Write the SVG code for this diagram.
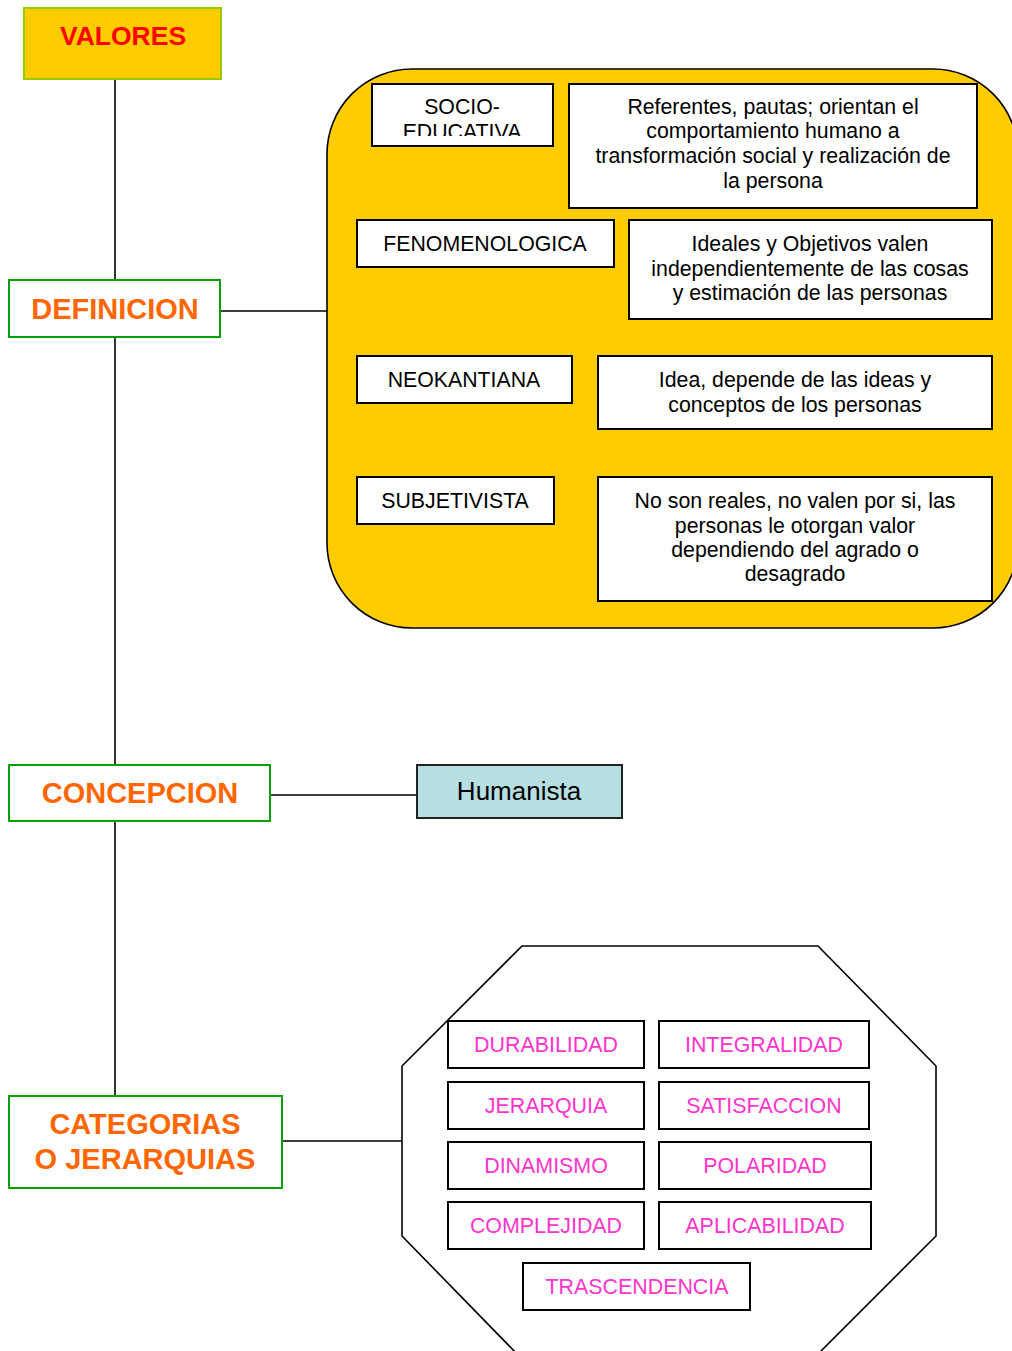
<svg xmlns="http://www.w3.org/2000/svg" width="1012" height="1351" viewBox="0 0 1012 1351">
  <style>
    .conn { stroke: #000; stroke-width: 1.6; fill: none; }
    .head { fill: #fff; stroke: #00a000; stroke-width: 2; }
    .headtxt { font-family: "Liberation Sans", Arial, sans-serif; font-weight: bold; font-size: 29px; fill: #ff6600; text-anchor: middle; }
    .box { fill: #fff; stroke: #000; stroke-width: 2; }
    .txt { font-family: "Liberation Sans", Arial, sans-serif; font-size: 21.3px; fill: #000; text-anchor: middle; }
    .pink { font-family: "Liberation Sans", Arial, sans-serif; font-size: 21.4px; fill: #ff33cc; text-anchor: middle; }
  </style>
  <defs>
    <clipPath id="clip-socio">
      <rect x="373" y="85" width="179" height="51"/>
    </clipPath>
  </defs>

  <rect width="1012" height="1351" fill="#fff"/>

  <!-- connectors -->
  <g id="connectors">
    <line class="conn" x1="115" y1="80" x2="115" y2="280"/>
    <line class="conn" x1="115" y1="337" x2="115" y2="765"/>
    <line class="conn" x1="115" y1="821" x2="115" y2="1096"/>
    <line class="conn" x1="220" y1="311" x2="327" y2="311"/>
    <line class="conn" x1="266" y1="795" x2="417" y2="795"/>
    <line class="conn" x1="282" y1="1141" x2="402" y2="1141"/>
  </g>

  <!-- root -->
  <g id="valores">
    <rect x="24" y="8" width="197" height="71" fill="#ffcc00" stroke="#99cc00" stroke-width="2"/>
    <text x="123" y="45" font-family="Liberation Sans, Arial, sans-serif" font-weight="bold" font-size="26.5" fill="#ff0000" text-anchor="middle">VALORES</text>
  </g>

  <!-- section headings -->
  <g id="definicion">
    <rect class="head" x="9" y="280" width="211" height="57"/>
    <text class="headtxt" x="115" y="319">DEFINICION</text>
  </g>
  <g id="concepcion">
    <rect class="head" x="9" y="765" width="261" height="56"/>
    <text class="headtxt" x="140" y="803">CONCEPCION</text>
  </g>
  <g id="categorias">
    <rect class="head" x="9" y="1096" width="273" height="92"/>
    <text class="headtxt" x="145" y="1134">CATEGORIAS</text>
    <text class="headtxt" x="145" y="1169">O JERARQUIAS</text>
  </g>

  <!-- definitions panel -->
  <g id="definiciones">
    <rect x="327" y="69" width="691" height="559" rx="85" ry="85" fill="#ffcc00" stroke="#000" stroke-width="1.6"/>
  </g>

  <g id="socio-educativa">
    <rect class="box" x="372" y="84" width="181" height="62"/>
    <g clip-path="url(#clip-socio)">
      <text class="txt" x="462" y="114">SOCIO-</text>
      <text class="txt" x="462" y="139">EDUCATIVA</text>
    </g>
  </g>
  <g id="socio-educativa-def">
    <rect class="box" x="569" y="84" width="408" height="124"/>
    <text class="txt" x="773" y="114">Referentes, pautas; orientan el</text>
    <text class="txt" x="773" y="138">comportamiento humano a</text>
    <text class="txt" x="773" y="163">transformación social y realización de</text>
    <text class="txt" x="773" y="188">la persona</text>
  </g>

  <g id="fenomenologica">
    <rect class="box" x="357" y="220" width="257" height="47"/>
    <text class="txt" x="485" y="251">FENOMENOLOGICA</text>
  </g>
  <g id="fenomenologica-def">
    <rect class="box" x="629" y="220" width="363" height="99"/>
    <text class="txt" x="810" y="251">Ideales y Objetivos valen</text>
    <text class="txt" x="810" y="276">independientemente de las cosas</text>
    <text class="txt" x="810" y="300">y estimación de las personas</text>
  </g>

  <g id="neokantiana">
    <rect class="box" x="357" y="356" width="215" height="47"/>
    <text class="txt" x="464" y="387">NEOKANTIANA</text>
  </g>
  <g id="neokantiana-def">
    <rect class="box" x="598" y="356" width="394" height="73"/>
    <text class="txt" x="795" y="387">Idea, depende de las ideas y</text>
    <text class="txt" x="795" y="412">conceptos de los personas</text>
  </g>

  <g id="subjetivista">
    <rect class="box" x="357" y="477" width="197" height="47"/>
    <text class="txt" x="455" y="508">SUBJETIVISTA</text>
  </g>
  <g id="subjetivista-def">
    <rect class="box" x="598" y="477" width="394" height="124"/>
    <text class="txt" x="795" y="508">No son reales, no valen por si, las</text>
    <text class="txt" x="795" y="533">personas le otorgan valor</text>
    <text class="txt" x="795" y="557">dependiendo del agrado o</text>
    <text class="txt" x="795" y="581">desagrado</text>
  </g>

  <!-- conception -->
  <g id="humanista">
    <rect x="417" y="765" width="205" height="53" fill="#b7dfe2" stroke="#222" stroke-width="2"/>
    <text x="519" y="800" font-family="Liberation Sans, Arial, sans-serif" font-size="26" fill="#000" text-anchor="middle">Humanista</text>
  </g>

  <!-- categories: octagon frame, lower edge runs past the page -->
  <g id="categorias-panel">
    <polyline points="519,1356 402,1236 402,1066 522,946 818,946 936,1066 936,1236 816,1356" fill="#fff" stroke="#000" stroke-width="1.6"/>
  </g>

  <g id="durabilidad">
    <rect class="box" x="448" y="1021" width="196" height="47"/>
    <text class="pink" x="546" y="1052">DURABILIDAD</text>
  </g>
  <g id="integralidad">
    <rect class="box" x="659" y="1021" width="210" height="47"/>
    <text class="pink" x="764" y="1052">INTEGRALIDAD</text>
  </g>
  <g id="jerarquia">
    <rect class="box" x="448" y="1082" width="196" height="47"/>
    <text class="pink" x="546" y="1113">JERARQUIA</text>
  </g>
  <g id="satisfaccion">
    <rect class="box" x="659" y="1082" width="210" height="47"/>
    <text class="pink" x="764" y="1113">SATISFACCION</text>
  </g>
  <g id="dinamismo">
    <rect class="box" x="448" y="1142" width="196" height="47"/>
    <text class="pink" x="546" y="1173">DINAMISMO</text>
  </g>
  <g id="polaridad">
    <rect class="box" x="659" y="1142" width="212" height="47"/>
    <text class="pink" x="765" y="1173">POLARIDAD</text>
  </g>
  <g id="complejidad">
    <rect class="box" x="448" y="1202" width="196" height="47"/>
    <text class="pink" x="546" y="1233">COMPLEJIDAD</text>
  </g>
  <g id="aplicabilidad">
    <rect class="box" x="659" y="1202" width="212" height="47"/>
    <text class="pink" x="765" y="1233">APLICABILIDAD</text>
  </g>
  <g id="trascendencia">
    <rect class="box" x="523" y="1263" width="227" height="47"/>
    <text class="pink" x="637" y="1294">TRASCENDENCIA</text>
  </g>
</svg>
